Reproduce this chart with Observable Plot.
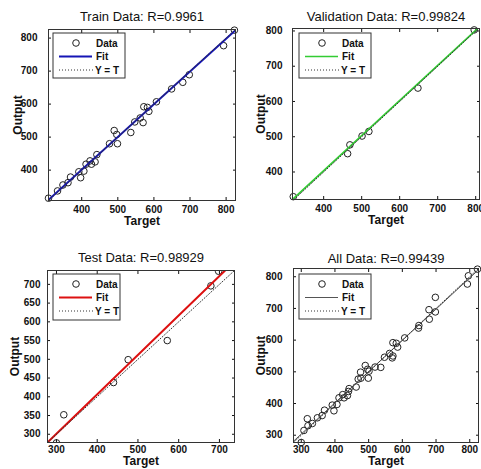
<!DOCTYPE html>
<html><head><meta charset="utf-8">
<script src="https://cdn.jsdelivr.net/npm/d3@7"></script>
<script src="https://cdn.jsdelivr.net/npm/@observablehq/plot@0.6"></script>
<style>
html,body{margin:0;padding:0;background:#fff;}
#chart{position:relative;width:481px;height:469px;overflow:hidden;background:#fff;}
#chart svg{position:absolute;}
</style></head><body><div id="chart"></div>
<script>
// ---- data ----
const trainTarget = [308, 333, 348, 362, 369, 392, 397, 406, 412, 423, 427, 437, 442, 477, 490, 497, 499, 536, 547, 562, 570, 572, 582, 586, 607, 649, 680, 698, 793, 823];
const trainOutput = [315, 337, 355, 362, 379, 395, 377, 397, 418, 428, 418, 425, 447, 480, 520, 508, 480, 514, 546, 558, 544, 592, 590, 578, 607, 646, 666, 689, 777, 824];
const valTarget = [320, 469, 463, 501, 519, 648, 796];
const valOutput = [330, 477, 452, 502, 515, 638, 803];
const testTarget = [300, 318, 440, 476, 572, 679, 698];
const testOutput = [277, 352, 438, 499, 550, 696, 735];
const allTarget = trainTarget.concat(valTarget, testTarget);
const allOutput = trainOutput.concat(valOutput, testOutput);

// fitted lines (end points)
const trainFitX = [308, 826], trainFitY = [310, 824];
const valFitX = [318, 807], valFitY = [322, 809];
const testFitX = [278, 714], testFitY = [278, 737];
const allFitX = [277, 826], allFitY = [281, 822];

// axis limits
const trainLim = [308, 826];
const valLimX = [318, 810], valLimY = [322, 807];
const testLim = [278, 737];
const allLim = [277, 826];

// ticks
const ticks400 = [400, 500, 600, 700, 800];
const testXTicks = [300, 400, 500, 600, 700];
const testYTicks = [300, 350, 400, 450, 500, 550, 600, 650, 700];
const ticks300 = [300, 400, 500, 600, 700, 800];

const titles = ["Train Data: R=0.9961", "Validation Data: R=0.99824", "Test Data: R=0.98929", "All Data: R=0.99439"];
const legendLabels = ["Data", "Fit", "Y = T"];

const font = "'Liberation Sans', Arial, sans-serif";

function panel(c) {
  const pts = c.target.map((t, i) => ({t, o: c.output[i]}));
  const fit = c.fitX.map((x, i) => ({x, y: c.fitY[i]}));
  const lo = Math.max(c.xLim[0], c.yLim[0]), hi = Math.min(c.xLim[1], c.yLim[1]);
  const diag = [{x: lo, y: lo}, {x: hi, y: hi}];
  const svg = Plot.plot({
    width: c.w, height: c.h,
    marginLeft: c.ml, marginRight: c.mr, marginTop: c.mt, marginBottom: c.mb,
    style: {fontFamily: font, background: "transparent", overflow: "visible", color: "#111"},
    x: {domain: c.xLim},
    y: {domain: c.yLim},
    marks: [
      Plot.axisX(c.xTicks, {anchor: "bottom", tickSize: 0, tickPadding: c.xpad, fontSize: 10, fontWeight: "bold", label: null}),
      Plot.axisX(c.xTicks, {anchor: "bottom", tickSize: -3, tickFormat: () => "", label: null}),
      Plot.axisX(c.xTicks, {anchor: "top", tickSize: -3, tickFormat: () => "", label: null}),
      Plot.axisY(c.yTicks, {anchor: "left", tickSize: 0, tickPadding: c.ypad, fontSize: 10, fontWeight: "bold", label: null}),
      Plot.axisY(c.yTicks, {anchor: "left", tickSize: -3, tickFormat: () => "", label: null}),
      Plot.axisY(c.yTicks, {anchor: "right", tickSize: -3, tickFormat: () => "", label: null}),
      Plot.dot(pts, {x: "t", y: "o", r: 3.3, stroke: "#222", strokeWidth: 1, fill: "none", clip: !!c.clipDots}),
      Plot.line(fit, {x: "x", y: "y", stroke: c.color, strokeWidth: c.fw, clip: true}),
      Plot.line(diag, {x: "x", y: "y", stroke: "#333", strokeWidth: 1, strokeDasharray: "1,2", clip: true}),
      Plot.frame({stroke: "#333", strokeWidth: 1}),
      Plot.text([c.title], {frameAnchor: "top", dy: c.titleDy, fontSize: 13, text: d => d, lineAnchor: "middle", textAnchor: "middle", fill: "#111"}),
      Plot.text(["Target"], {frameAnchor: "bottom", dy: c.tdy, fontSize: 12, fontWeight: "bold", text: d => d, lineAnchor: "middle", textAnchor: "middle", fill: "#111"}),
      Plot.text(["Output"], {frameAnchor: "left", dx: c.odx, rotate: -90, fontSize: 12, fontWeight: "bold", text: d => d, lineAnchor: "middle", textAnchor: "middle", fill: "#111"})
    ]
  });
  svg.style.left = c.left + "px";
  svg.style.top = c.top + "px";
  // legend box
  const L = c.legend;
  const g = d3.select(svg).append("g")
    .attr("font-family", font).attr("font-size", 10).attr("font-weight", "bold")
    .attr("fill", "#111").attr("text-anchor", "start");
  g.append("rect").attr("x", L.x).attr("y", L.y).attr("width", L.w).attr("height", L.h)
    .attr("fill", "#fff").attr("stroke", "#333").attr("stroke-width", 1);
  const rows = [L.y + 10, L.y + 23.5, L.y + 37];
  g.append("circle").attr("cx", L.x + 23).attr("cy", rows[0]).attr("r", 3.3)
    .attr("fill", "none").attr("stroke", "#222").attr("stroke-width", 1);
  g.append("line").attr("x1", L.x + 6).attr("x2", L.x + 39).attr("y1", rows[1]).attr("y2", rows[1])
    .attr("stroke", c.color).attr("stroke-width", c.fw);
  g.append("line").attr("x1", L.x + 6).attr("x2", L.x + 41).attr("y1", rows[2]).attr("y2", rows[2])
    .attr("stroke", "#333").attr("stroke-dasharray", "1,2");
  legendLabels.forEach((t, i) => {
    g.append("text").attr("x", L.x + (i === 2 ? 42 : 43)).attr("y", rows[i]).attr("dy", "0.35em").text(t);
  });
  document.getElementById("chart").appendChild(svg);
}

panel({title: titles[0], target: trainTarget, output: trainOutput, fitX: trainFitX, fitY: trainFitY,
  xLim: trainLim, yLim: trainLim, xTicks: ticks400, yTicks: ticks400, color: "#1515b5", fw: 2,
  left: 0, top: 0, w: 240, h: 235, ml: 48, mr: 5, mt: 29, mb: 35, xpad: 5, ypad: 11, titleDy: -13, tdy: 21, odx: -30,
  legend: {x: 53, y: 33, w: 72, h: 45}});
panel({title: titles[1], target: valTarget, output: valOutput, fitX: valFitX, fitY: valFitY,
  xLim: valLimX, yLim: valLimY, xTicks: ticks400, yTicks: ticks400, color: "#33cc33", fw: 1.6,
  left: 240, top: 0, w: 241, h: 235, ml: 52, mr: 2, mt: 28, mb: 36, xpad: 5, ypad: 10, titleDy: -11.5, tdy: 21, odx: -31,
  legend: {x: 59, y: 33, w: 72, h: 45}});
panel({title: titles[2], target: testTarget, output: testOutput, fitX: testFitX, fitY: testFitY,
  xLim: testLim, yLim: testLim, xTicks: testXTicks, yTicks: testYTicks, color: "#dd1111", fw: 2, clipDots: true,
  left: 0, top: 235, w: 240, h: 234, ml: 47, mr: 6, mt: 35, mb: 27, xpad: 3, ypad: 7, titleDy: -13, tdy: 18.5, odx: -32,
  legend: {x: 53, y: 39, w: 67, h: 46}});
panel({title: titles[3], target: allTarget, output: allOutput, fitX: allFitX, fitY: allFitY,
  xLim: allLim, yLim: allLim, xTicks: ticks300, yTicks: ticks300, color: "#555", fw: 1,
  left: 240, top: 235, w: 241, h: 234, ml: 53, mr: 3, mt: 33, mb: 27, xpad: 3, ypad: 11, titleDy: -10, tdy: 18.5, odx: -32.5,
  legend: {x: 59, y: 39, w: 72, h: 45}});
</script></body></html>
